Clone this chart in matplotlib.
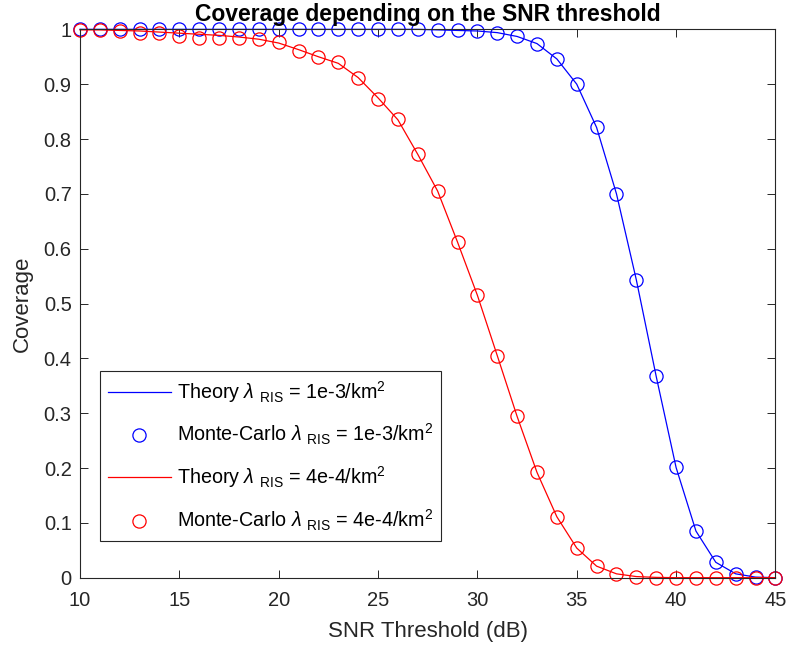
import numpy as np
import matplotlib.pyplot as plt

plt.rcParams['font.family'] = ['Liberation Sans', 'DejaVu Sans']
plt.rcParams['mathtext.fontset'] = 'custom'
plt.rcParams['mathtext.rm'] = 'Liberation Sans'
plt.rcParams['mathtext.it'] = 'Liberation Sans:italic'

snr_db = np.arange(10, 46)

# coverage probability, lambda_RIS = 1e-3 / km^2
theory_hi = [1.0, 1.0, 1.0, 1.0, 1.0, 1.0, 1.0, 1.0, 1.0, 1.0,
             1.0, 1.0, 1.0, 1.0, 1.0, 1.0, 1.0, 1.0, 0.999, 0.998,
             0.997, 0.994, 0.987, 0.974, 0.946, 0.900, 0.821, 0.700, 0.543, 0.367,
             0.201, 0.085, 0.028, 0.007, 0.001, 0.0]
mc_hi = [1.0, 1.0, 1.0, 1.0, 1.0, 1.0, 1.0, 1.0, 1.0, 1.0,
         1.0, 1.0, 1.0, 1.0, 1.0, 1.0, 1.0, 1.0, 0.999, 0.998,
         0.997, 0.994, 0.987, 0.974, 0.946, 0.900, 0.821, 0.700, 0.543, 0.367,
         0.201, 0.085, 0.028, 0.007, 0.001, 0.0]

# coverage probability, lambda_RIS = 4e-4 / km^2
theory_lo = [0.999, 0.999, 0.998, 0.997, 0.995, 0.993, 0.991, 0.989, 0.986, 0.982,
             0.975, 0.963, 0.950, 0.938, 0.912, 0.875, 0.835, 0.772, 0.705, 0.612,
             0.515, 0.405, 0.294, 0.192, 0.111, 0.054, 0.021, 0.007, 0.002, 0.0005,
             0.0, 0.0, 0.0, 0.0, 0.0, 0.0]
mc_lo = [0.999, 0.998, 0.997, 0.994, 0.993, 0.988, 0.985, 0.984, 0.984, 0.982,
         0.976, 0.960, 0.949, 0.940, 0.911, 0.873, 0.836, 0.772, 0.706, 0.612,
         0.516, 0.404, 0.294, 0.192, 0.111, 0.054, 0.021, 0.007, 0.001, 0.0,
         0.0, 0.0, 0.0, 0.0, 0.0, 0.0]

labels = [r'Theory $\lambda$ $_{\mathrm{RIS}}$ = 1e-3/km$^{2}$',
          r'Monte-Carlo $\lambda$ $_{\mathrm{RIS}}$ = 1e-3/km$^{2}$',
          r'Theory $\lambda$ $_{\mathrm{RIS}}$ = 4e-4/km$^{2}$',
          r'Monte-Carlo $\lambda$ $_{\mathrm{RIS}}$ = 4e-4/km$^{2}$']

fig = plt.figure(figsize=(7.89, 6.52), dpi=100)
ax = fig.add_axes([0.1014, 0.114, 0.8814, 0.841])

ax.plot(snr_db, theory_hi, color='#0000ff', lw=0.9, label=labels[0])
ax.plot(snr_db, mc_hi, 'o', color='#0000ff', mfc='none', ms=9.5, mew=0.9, label=labels[1])
ax.plot(snr_db, theory_lo, color='#ff0000', lw=0.9, label=labels[2])
ax.plot(snr_db, mc_lo, 'o', color='#ff0000', mfc='none', ms=9.5, mew=0.9, label=labels[3])

ax.set_xlim(10, 45)
ax.set_ylim(0, 1)
ax.set_xticks(np.arange(10, 46, 5))
ax.set_yticks(np.arange(0, 1.01, 0.1))
ax.set_yticklabels(['0', '0.1', '0.2', '0.3', '0.4', '0.5', '0.6', '0.7', '0.8', '0.9', '1'])

ax.tick_params(direction='in', length=6, width=0.7, top=True, right=True,
               labelsize=14.5, colors='#262626')
ax.tick_params(axis='x', pad=9.5)
ax.tick_params(axis='y', pad=6)
for s in ax.spines.values():
    s.set_linewidth(0.8)
    s.set_color('#262626')
for m in ax.lines:
    m.set_clip_on(False)

ax.set_xlabel('SNR Threshold (dB)', fontsize=16, color='#262626', labelpad=8)
ax.set_ylabel('Coverage', fontsize=16, color='#262626', labelpad=8)
ax.set_title('Coverage depending on the SNR threshold', fontsize=16.5, fontweight='bold', pad=6)

leg = ax.legend(loc='lower left', bbox_to_anchor=(0.0288, 0.067), borderaxespad=0,
                fontsize=14.2, fancybox=False, edgecolor='#262626', framealpha=1,
                handlelength=3.2, borderpad=0.4, labelspacing=0.88, handletextpad=0.3)
leg.get_frame().set_linewidth(0.8)

fig.savefig('out.png', dpi=100)
